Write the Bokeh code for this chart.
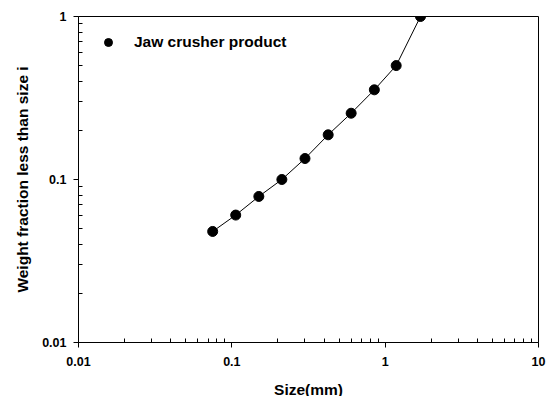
from bokeh.plotting import figure
from bokeh.models import FixedTicker, CustomJSTickFormatter, Legend, LegendItem
from bokeh.embed import file_html
from bokeh.resources import INLINE

# Sieve sizes (mm) and cumulative weight fraction passing
size_mm = [0.075, 0.106, 0.15, 0.212, 0.30, 0.425, 0.60, 0.85, 1.18, 1.70]
frac_passing = [0.048, 0.0605, 0.0787, 0.100, 0.1345, 0.188, 0.255, 0.355, 0.50, 1.0]

x_ticks = [0.01, 0.1, 1, 10]
x_tick_labels = ["0.01", "0.1", "1", "10"]
y_ticks = [0.01, 0.1, 1]
y_tick_labels = ["0.01", "0.1", "1"]

FONT = "Liberation Sans"


def minor_between(majors):
    # 2..9 times each decade start
    out = []
    for d in majors[:-1]:
        out.extend(round(d * m, 6) for m in range(2, 10))
    return out


p = figure(
    frame_width=460, frame_height=326,
    x_axis_type="log", y_axis_type="log",
    x_range=(0.01, 10), y_range=(0.01, 1),
    output_backend="svg", toolbar_location=None,
    min_border_left=78, min_border_right=20,
    min_border_top=16, min_border_bottom=54,
)
p.grid.visible = False
p.outline_line_color = "black"
p.outline_line_width = 1
p.background_fill_color = "white"
p.border_fill_color = "white"

p.line(size_mm, frac_passing, line_color="black", line_width=1)
pts = p.scatter(size_mm, frac_passing, size=10, marker="circle",
                fill_color="black", line_color="black")


def tick_formatter(vals, labels):
    return CustomJSTickFormatter(
        args=dict(tick_vals=vals, tick_text=labels),
        code="""
        for (let i = 0; i < tick_vals.length; i++) {
            if (Math.abs(Math.log10(tick) - Math.log10(tick_vals[i])) < 1e-6) return tick_text[i];
        }
        return "";
        """,
    )


p.xaxis.ticker = FixedTicker(ticks=x_ticks, minor_ticks=minor_between(x_ticks))
p.yaxis.ticker = FixedTicker(ticks=y_ticks, minor_ticks=minor_between(y_ticks))
p.xaxis.formatter = tick_formatter(x_ticks, x_tick_labels)
p.yaxis.formatter = tick_formatter(y_ticks, y_tick_labels)

for ax in (p.xaxis[0], p.yaxis[0]):
    ax.axis_line_color = "black"
    ax.axis_line_width = 1
    ax.major_tick_line_color = "black"
    ax.minor_tick_line_color = "black"
    ax.minor_tick_line_width = 1
    ax.major_tick_out = 5
    ax.major_tick_in = 0
    ax.minor_tick_out = 0
    ax.minor_tick_in = 4
    ax.major_label_text_font = FONT
    ax.major_label_text_font_style = "bold"
    ax.major_label_text_font_size = "12.5px"
    ax.major_label_text_color = "black"
    ax.axis_label_text_font = FONT
    ax.axis_label_text_font_style = "bold"
    ax.axis_label_text_font_size = "15.5px"
    ax.axis_label_text_color = "black"

p.xaxis.axis_label = "Size(mm)"
p.yaxis.axis_label = "Weight fraction less than size i"
p.xaxis.major_label_standoff = 9
p.xaxis.axis_label_standoff = 12
p.yaxis.major_label_standoff = 7
p.yaxis.axis_label_standoff = 8

legend = Legend(
    items=[LegendItem(label="Jaw crusher product", renderers=[pts])],
    location=(20, 290),
    border_line_color=None,
    background_fill_alpha=0,
    padding=0, margin=0,
    label_standoff=16,
    label_text_font=FONT,
    label_text_font_style="bold",
    label_text_font_size="15.5px",
    label_text_color="black",
)
p.add_layout(legend)

open("out.html", "w").write(file_html(p, INLINE))
